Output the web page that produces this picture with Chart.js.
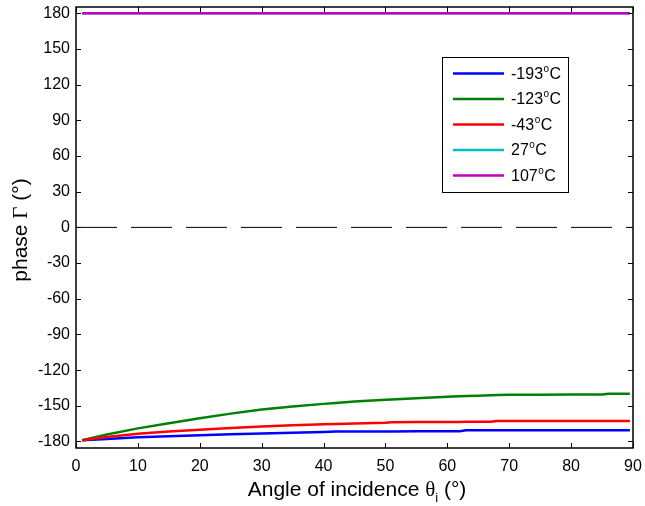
<!DOCTYPE html>
<html>
<head>
<meta charset="utf-8">
<script src="https://cdn.jsdelivr.net/npm/chart.js@4.4.1/dist/chart.umd.min.js"></script>
<style>
  html, body { margin: 0; padding: 0; background: #fff; }
  #wrap { width: 645px; height: 506px; }
</style>
</head>
<body>
<div id="wrap"><canvas id="phaseChart"></canvas></div>
<script>
// angle of incidence (deg)
const angles = [1, 5, 10, 15, 20, 25, 30, 35, 40, 42, 45, 50, 51, 55, 60, 62, 63, 65, 67, 68, 70, 75, 80, 85, 86, 89.5];

// phase (deg) per temperature
const phaseM193 = [-179, -178, -176.5, -175.6, -174.8, -174, -173.3, -172.7, -172, -171.6, -171.6, -171.6, -171.6, -171.5, -171.5, -171.4, -170.6, -170.6, -170.6, -170.6, -170.6, -170.6, -170.6, -170.6, -170.6, -170.6];
const phaseM123 = [-179, -174.2, -169, -164.6, -160.5, -156.6, -153.2, -150.6, -148.4, -147.6, -146.5, -145, -144.8, -143.6, -142.4, -142, -141.8, -141.5, -141.2, -141, -140.8, -140.7, -140.6, -140.6, -139.9, -139.9];
const phaseM43 = [-179, -176.3, -173.5, -171.6, -170.1, -168.6, -167.4, -166.4, -165.6, -165.3, -164.8, -164.3, -163.8, -163.7, -163.6, -163.6, -163.5, -163.5, -163.4, -162.9, -162.9, -162.9, -162.9, -162.9, -162.9, -162.9];
const phase27 = [180, 180, 180, 180, 180, 180, 180, 180, 180, 180, 180, 180, 180, 180, 180, 180, 180, 180, 180, 180, 180, 180, 180, 180, 180, 180];
const phase107 = [180, 180, 180, 180, 180, 180, 180, 180, 180, 180, 180, 180, 180, 180, 180, 180, 180, 180, 180, 180, 180, 180, 180, 180, 180, 180];

const seriesLabels = ['-193°C', '-123°C', '-43°C', '27°C', '107°C'];
const seriesColors = ['#0000ff', '#008000', '#ff0000', '#00bfbf', '#bf00bf'];

const xTicks = [0, 10, 20, 30, 40, 50, 60, 70, 80, 90];
const yTicks = [-180, -150, -120, -90, -60, -30, 0, 30, 60, 90, 120, 150, 180];
const zeroLine = [0, 0];
const zeroLineX = [0, 90];

const SANS = '"Liberation Sans", Arial, sans-serif';
const SERIF = '"Liberation Serif", "Times New Roman", serif';

function toPoints(xs, ys) {
    return xs.map((x, i) => ({ x: x, y: ys[i] }));
}

// draws text where "°" is shown as a small raised o
function drawDegText(ctx, text, x, y, size) {
    const parts = text.split('°');
    ctx.font = size + 'px ' + SANS;
    ctx.fillText(parts[0], x, y);
    x += ctx.measureText(parts[0]).width + 0.5;
    if (parts.length > 1) {
        ctx.font = Math.round(size * 0.62) + 'px ' + SANS;
        ctx.fillText('o', x, y - size * 0.33);
        x += ctx.measureText('o').width + 0.5;
        ctx.font = size + 'px ' + SANS;
        ctx.fillText(parts[1], x, y);
    }
}

// frame, inward ticks, titles and legend box
const decor = {
    id: 'decor',
    afterDraw(chart) {
        const ctx = chart.ctx;
        const a = chart.chartArea;
        const xs = chart.scales.x, ys = chart.scales.y;
        ctx.save();
        ctx.strokeStyle = '#000';
        ctx.lineWidth = 1.5;
        ctx.strokeRect(a.left, a.top, a.right - a.left, a.bottom - a.top);

        ctx.lineWidth = 1;
        ctx.beginPath();
        xTicks.forEach(v => {
            const px = Math.round(xs.getPixelForValue(v)) + 0.5;
            ctx.moveTo(px, a.bottom); ctx.lineTo(px, a.bottom - 5);
            ctx.moveTo(px, a.top); ctx.lineTo(px, a.top + 5);
        });
        yTicks.forEach(v => {
            const py = Math.round(ys.getPixelForValue(v)) + 0.5;
            ctx.moveTo(a.left, py); ctx.lineTo(a.left + 5, py);
            ctx.moveTo(a.right, py); ctx.lineTo(a.right - 5, py);
        });
        ctx.stroke();

        // x title
        ctx.fillStyle = '#000';
        ctx.textBaseline = 'alphabetic';
        ctx.textAlign = 'left';
        const fs = 21;
        const t1 = 'Angle of incidence ', t2 = 'θ', t3 = 'i', t4 = ' (°)';
        ctx.font = fs + 'px ' + SANS; const w1 = ctx.measureText(t1).width, w4 = ctx.measureText(t4).width;
        ctx.font = fs + 'px ' + SERIF; const w2 = ctx.measureText(t2).width;
        ctx.font = Math.round(fs * 0.6) + 'px ' + SANS; const w3 = ctx.measureText(t3).width;
        let x = 357 - (w1 + w2 + w3 + w4) / 2;
        const by = 496;
        ctx.font = fs + 'px ' + SANS; ctx.fillText(t1, x, by); x += w1;
        ctx.font = fs + 'px ' + SERIF; ctx.fillText(t2, x, by); x += w2;
        ctx.font = Math.round(fs * 0.6) + 'px ' + SANS; ctx.fillText(t3, x, by + 6); x += w3;
        ctx.font = fs + 'px ' + SANS; ctx.fillText(t4, x, by);

        // y title
        ctx.save();
        ctx.translate(27, 230);
        ctx.rotate(-Math.PI / 2);
        const y1 = 'phase ', y2 = 'Γ', y3 = ' (°)';
        ctx.font = fs + 'px ' + SANS; const v1 = ctx.measureText(y1).width, v3 = ctx.measureText(y3).width;
        ctx.font = fs + 'px ' + SERIF; const v2 = ctx.measureText(y2).width;
        let yx = -(v1 + v2 + v3) / 2;
        ctx.font = fs + 'px ' + SANS; ctx.fillText(y1, yx, 0); yx += v1;
        ctx.font = fs + 'px ' + SERIF; ctx.fillText(y2, yx, 0); yx += v2;
        ctx.font = fs + 'px ' + SANS; ctx.fillText(y3, yx, 0);
        ctx.restore();

        // legend
        const lx = 442, ly = 57, lw = 126, lh = 135;
        ctx.fillStyle = '#fff';
        ctx.fillRect(lx, ly, lw, lh);
        ctx.strokeStyle = '#000';
        ctx.lineWidth = 1;
        ctx.strokeRect(lx + 0.5, ly + 0.5, lw, lh);
        ctx.textBaseline = 'middle';
        seriesLabels.forEach((lab, i) => {
            const ry = 73.5 + i * 25.5;
            ctx.strokeStyle = seriesColors[i];
            ctx.lineWidth = 2.5;
            ctx.beginPath();
            ctx.moveTo(453, ry); ctx.lineTo(504, ry);
            ctx.stroke();
            ctx.fillStyle = '#000';
            drawDegText(ctx, lab, 511, ry + 1, 16);
        });
        ctx.restore();
    }
};

const ctx = document.getElementById('phaseChart').getContext('2d');
new Chart(ctx, {
    type: 'line',
    data: {
        datasets: [
            { label: 'zero', data: toPoints(zeroLineX, zeroLine), borderColor: '#000', borderWidth: 1, borderDash: [41, 14], order: 6 },
            { label: seriesLabels[0], data: toPoints(angles, phaseM193), borderColor: seriesColors[0], order: 4 },
            { label: seriesLabels[1], data: toPoints(angles, phaseM123), borderColor: seriesColors[1], order: 3 },
            { label: seriesLabels[2], data: toPoints(angles, phaseM43), borderColor: seriesColors[2], order: 2 },
            { label: seriesLabels[3], data: toPoints(angles, phase27), borderColor: seriesColors[3], order: 1 },
            { label: seriesLabels[4], data: toPoints(angles, phase107), borderColor: seriesColors[4], order: 0 }
        ]
    },
    options: {
        responsive: true,
        maintainAspectRatio: false,
        animation: false,
        layout: { padding: { left: 0, right: 12, top: 7, bottom: 0 } },
        plugins: { legend: { display: false }, tooltip: { enabled: false } },
        elements: { point: { radius: 0 }, line: { tension: 0, borderWidth: 2.5, fill: false } },
        scales: {
            x: {
                type: 'linear', min: 0, max: 90,
                afterBuildTicks: s => { s.ticks = xTicks.map(v => ({ value: v })); },
                afterFit: s => { s.height = 58; s.paddingLeft = 0; s.paddingRight = 0; },
                grid: { display: false, drawTicks: false },
                border: { display: false },
                ticks: { padding: 9, color: '#000', autoSkip: false, maxRotation: 0, font: { family: SANS, size: 16 } }
            },
            y: {
                type: 'linear', min: -185.5, max: 185.3,
                afterBuildTicks: s => { s.ticks = yTicks.map(v => ({ value: v })); },
                afterFit: s => { s.width = 76; s.paddingTop = 0; s.paddingBottom = 0; },
                grid: { display: false, drawTicks: false },
                border: { display: false },
                ticks: { padding: 6, color: '#000', autoSkip: false, font: { family: SANS, size: 16 } }
            }
        }
    },
    plugins: [decor]
});
</script>
</body>
</html>
